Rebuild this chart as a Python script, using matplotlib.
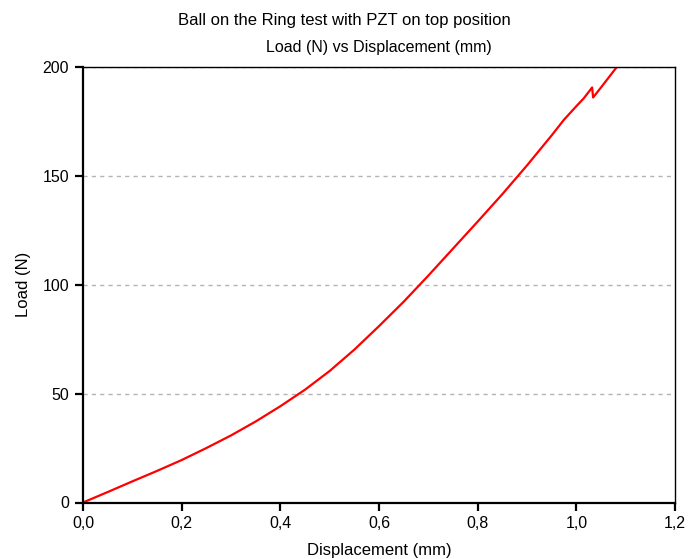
import matplotlib
matplotlib.use("Agg")
import matplotlib.pyplot as plt
from matplotlib.ticker import FuncFormatter

plt.rcParams['font.family'] = ['Liberation Sans', 'DejaVu Sans']

# Ball-on-ring test readings: displacement (mm) and load (N)
displacement = [0.0, 0.05, 0.1, 0.15, 0.2, 0.25, 0.3, 0.35, 0.4, 0.45,
                0.5, 0.55, 0.6, 0.65, 0.7, 0.75, 0.8, 0.85, 0.9, 0.95,
                0.975, 1.0, 1.015, 1.032, 1.034, 1.05, 1.065, 1.082]
load = [0.0, 4.8, 9.7, 14.5, 19.5, 25.0, 30.8, 37.2, 44.2, 51.8,
        60.4, 70.2, 81.0, 92.2, 104.2, 116.6, 129.0, 141.6, 154.8, 168.6,
        175.8, 182.0, 185.6, 190.6, 186.0, 190.6, 195.0, 200.0]

xticks = [0.0, 0.2, 0.4, 0.6, 0.8, 1.0, 1.2]
yticks = [0, 50, 100, 150, 200]

fig = plt.figure(figsize=(6.89, 5.59), dpi=100)
ax = fig.add_axes([83 / 689, 1 - 502.5 / 559, 592 / 689, 435.5 / 559])

ax.plot(displacement, load, color='red', lw=1.6)

ax.set_xlim(0, 1.2)
ax.set_ylim(0, 200)
ax.set_xticks(xticks)
ax.set_yticks(yticks)
ax.xaxis.set_major_formatter(FuncFormatter(lambda v, p: f"{v:.1f}".replace('.', ',')))
ax.yaxis.set_major_formatter(FuncFormatter(lambda v, p: f"{v:.0f}"))

ax.yaxis.grid(True, color='#b4b4b4', linestyle=(0, (3, 3)), lw=1)
ax.set_axisbelow(True)

for side in ['left', 'bottom']:
    ax.spines[side].set_linewidth(1.6)
for side in ['top', 'right']:
    ax.spines[side].set_linewidth(1.0)
ax.tick_params(direction='out', length=6, width=1.6, labelsize=11.5, pad=4)

ax.set_xlabel('Displacement (mm)', fontsize=12, labelpad=8)
ax.set_ylabel('Load (N)', fontsize=12, labelpad=8)

fig.text(0.5, 1 - 21 / 559, 'Ball on the Ring test with PZT on top position',
         ha='center', va='center', fontsize=12)
ax.set_title('Load (N) vs Displacement (mm)', fontsize=11.5, pad=11)

fig.savefig('out.png', dpi=100)
